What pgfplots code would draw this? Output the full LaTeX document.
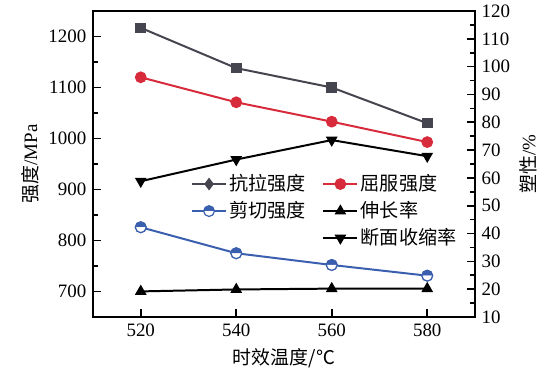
\documentclass[border=0pt]{standalone}
\usepackage{fontspec}
\setmainfont{Liberation Serif}
\newfontfamily\cjk{Noto Sans CJK SC}
\usepackage{pgfplots}
\pgfplotsset{compat=1.18}
\usetikzlibrary{plotmarks}
\definecolor{dgray}{HTML}{45454F}
\definecolor{cred}{HTML}{D72B3C}
\definecolor{cblue}{HTML}{3A5FAE}
\begin{document}
\fontsize{9.5}{11}\selectfont
\begin{tikzpicture}
\useasboundingbox (-46.5bp,-25.5bp) rectangle (233.5bp,158.5bp);
\pgfplotsset{
  base/.style={
    scale only axis, width=191bp, height=153bp,
    at={(0,0)}, anchor=south west,
    xmin=510, xmax=590,
    tick align=inside,
    major tick length=4bp, minor tick length=2.5bp,
    every tick/.style={black, line width=0.8pt},
    axis line style={line width=1pt},
    tick label style={font=\fontsize{9.5}{11}\selectfont},
    /pgf/number format/assume math mode=true,
    /pgf/number format/1000 sep={},
    label style={font=\fontsize{9.5}{11}\selectfont},
  }
}
\begin{axis}[base,
  ymin=650, ymax=1250,
  xtick={520,540,560,580},
  ytick={700,800,...,1200},
  minor y tick num=1,
  xtick pos=bottom, ytick pos=left,
  xlabel={{\cjk 时效温度/℃}},
  ylabel={{\cjk 强度}/MPa},
  xlabel style={at={(axis description cs:0.5,-0.134)}, anchor=center},
  ylabel style={at={(axis description cs:-0.165,0.5)}, anchor=center},
]
\addplot[dgray, line width=1pt, mark=square*, mark size=2.4pt, mark options={fill=dgray, line width=0.5pt}]
  coordinates {(520,1217) (540,1138) (560,1100) (580,1030)};
\addplot[cred, line width=1pt, mark=*, mark size=2.7pt, mark options={fill=cred, line width=0.5pt}]
  coordinates {(520,1120) (540,1071) (560,1033) (580,993)};
\addplot[cblue, line width=1pt, mark=*, mark size=2.7pt, mark options={fill=white, line width=0.6pt}]
  coordinates {(520,826) (540,775) (560,752) (580,731)};
\addplot[only marks, cblue, mark=halfcircle*, mark size=2.7pt, mark options={fill=cblue, line width=0.6pt}]
  coordinates {(520,826) (540,775) (560,752) (580,731)};
\end{axis}
\begin{axis}[base,
  ymin=10, ymax=120,
  axis x line=none,
  axis y line*=right,
  ytick={10,20,...,120},
  minor y tick num=1,
  ylabel={{\cjk 塑性}/\%},
  ylabel style={at={(axis description cs:1.139,0.5)}, anchor=center, rotate=0},
  legend columns=2,
  legend style={draw=none, fill=none, at={(axis description cs:0.24,0.493)}, anchor=north west,
    font=\cjk\fontsize{9.6}{10}\selectfont, row sep=0bp,
    nodes={inner xsep=1.2bp},
    /tikz/every even column/.append style={column sep=7bp}},
  legend cell align=left,
]
\addplot[black, line width=1pt, mark=triangle*, mark size=2.9pt, mark options={fill=black, line width=0.5pt}, forget plot]
  coordinates {(520,19.2) (540,19.9) (560,20.2) (580,20.2)};
\addplot[black, line width=1pt, mark=triangle*, mark size=2.9pt, mark options={fill=black, rotate=180, line width=0.5pt}, forget plot]
  coordinates {(520,58.8) (540,66.6) (560,73.6) (580,67.8)};
\addlegendimage{dgray, line width=1pt, mark=diamond*, mark size=2.8pt, mark options={fill=dgray, line width=0.5pt}}
\addlegendentry{抗拉强度}
\addlegendimage{cred, line width=1pt, mark=*, mark size=2.7pt, mark options={fill=cred, line width=0.5pt}}
\addlegendentry{屈服强度}
\addlegendimage{cblue, line width=1pt, mark=halfcircle*, mark size=2.7pt, mark options={fill=cblue, line width=0.6pt}}
\addlegendentry{剪切强度}
\addlegendimage{black, line width=1pt, mark=triangle*, mark size=2.9pt, mark options={fill=black, line width=0.5pt}}
\addlegendentry{伸长率}
\addlegendimage{empty legend}
\addlegendentry{}
\addlegendimage{black, line width=1pt, mark=triangle*, mark size=2.9pt, mark options={fill=black, rotate=180, line width=0.5pt}}
\addlegendentry{断面收缩率}
\end{axis}
\end{tikzpicture}
\end{document}
